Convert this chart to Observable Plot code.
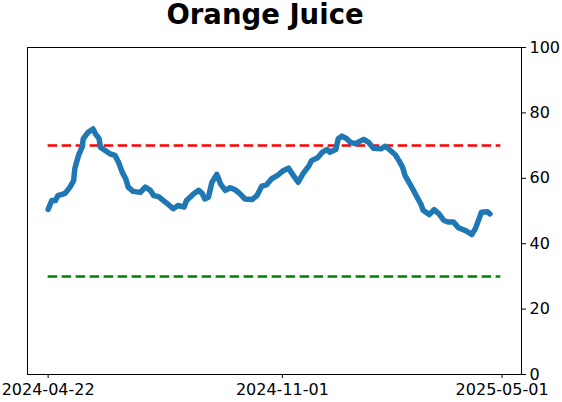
<!DOCTYPE html>
<html>
<head>
<meta charset="utf-8">
<script src="https://cdn.jsdelivr.net/npm/d3@7"></script>
<script src="https://cdn.jsdelivr.net/npm/@observablehq/plot@0.6"></script>
<style>
  html, body { margin: 0; padding: 0; background: #fff; }
  #wrap { position: relative; width: 562px; height: 402px; overflow: hidden; font-family: "DejaVu Sans", sans-serif; }
  #title { position: absolute; left: 0; top: 1px; width: 530px; height: 26px; text-align: center; font-size: 27.5px; font-weight: bold; line-height: 26px; color: #000; }
  #chart { position: absolute; left: 0; top: 40px; }
</style>
</head>
<body>
<div id="wrap">
  <div id="title">Orange Juice</div>
  <div id="chart"></div>
</div>
<script>
const dates = [
  "2024-04-22","2024-04-25","2024-04-28","2024-04-30","2024-05-06","2024-05-10","2024-05-13","2024-05-14",
  "2024-05-17","2024-05-20","2024-05-21","2024-05-25","2024-05-29","2024-05-31","2024-06-03","2024-06-04",
  "2024-06-08","2024-06-12","2024-06-16","2024-06-19","2024-06-22","2024-06-25","2024-06-27","2024-07-01",
  "2024-07-07","2024-07-11","2024-07-15","2024-07-18","2024-07-22","2024-07-26","2024-07-30","2024-08-03",
  "2024-08-07","2024-08-12","2024-08-14","2024-08-20","2024-08-24","2024-08-27","2024-08-29","2024-09-01",
  "2024-09-04","2024-09-08","2024-09-11","2024-09-15","2024-09-19","2024-09-23","2024-09-27","2024-10-01",
  "2024-10-07","2024-10-11","2024-10-15","2024-10-19","2024-10-23","2024-10-28","2024-11-02","2024-11-06",
  "2024-11-10","2024-11-14","2024-11-18","2024-11-23","2024-11-25","2024-11-30","2024-12-04","2024-12-08",
  "2024-12-10","2024-12-15","2024-12-17","2024-12-20","2024-12-24","2024-12-27","2024-12-31","2025-01-07",
  "2025-01-11","2025-01-15","2025-01-21","2025-01-25","2025-01-29","2025-02-02","2025-02-05","2025-02-08",
  "2025-02-10","2025-02-14","2025-02-17","2025-02-20","2025-02-23","2025-02-25","2025-03-02","2025-03-06",
  "2025-03-10","2025-03-14","2025-03-18","2025-03-22","2025-03-26","2025-04-01","2025-04-06","2025-04-09",
  "2025-04-12","2025-04-14","2025-04-19","2025-04-21"
];
const values = [
  50.5,53.2,53.2,54.7,55.4,57.3,59.3,63.0,
  67.0,69.5,72.1,74.1,75.1,73.6,72.1,69.5,
  68.5,67.5,67.0,64.9,61.9,59.8,57.3,56.0,
  55.7,57.3,56.4,54.7,54.4,53.2,52.0,50.7,
  51.7,51.2,53.2,55.3,56.3,55.3,53.7,54.2,
  58.8,61.2,58.3,56.3,57.1,56.5,55.3,53.7,
  53.5,54.7,57.6,58.0,59.8,60.9,62.4,63.1,
  60.9,58.8,61.4,63.9,65.4,66.3,68.0,68.8,
  68.0,68.8,72.1,72.9,72.1,71.0,70.6,71.9,
  71.0,69.2,69.0,69.8,68.5,67.2,65.4,63.4,
  60.9,58.3,56.3,54.2,52.2,50.2,48.9,50.4,
  49.1,47.1,46.6,46.6,44.9,44.0,42.8,44.6,
  47.6,49.6,49.8,49.1
];
const xTicks = ["2024-04-22", "2024-11-01", "2025-05-01"];
const yTicks = [0, 20, 40, 60, 80, 100];
const upperLevel = 70;
const lowerLevel = 30;
const ruleSpan = ["2024-04-22", "2025-04-30"];
const xDomain = ["2024-04-05", "2025-05-17"];

const rows = dates.map((d, i) => ({date: new Date(d), value: values[i]}));
const upperRule = [{v: upperLevel, x1: new Date(ruleSpan[0]), x2: new Date(ruleSpan[1])}];
const lowerRule = [{v: lowerLevel, x1: new Date(ruleSpan[0]), x2: new Date(ruleSpan[1])}];

const chart = Plot.plot({
  width: 562,
  height: 362,
  marginTop: 7,
  marginBottom: 28,
  marginLeft: 27,
  marginRight: 41,
  style: {fontFamily: "DejaVu Sans", fontSize: "16px", color: "#000", background: "#fff", overflow: "visible"},
  x: {
    type: "utc",
    domain: xDomain.map(d => new Date(d)),
    ticks: xTicks.map(d => new Date(d)),
    tickFormat: d3.utcFormat("%Y-%m-%d"),
    label: null,
    tickSize: 4,
    tickPadding: 5
  },
  y: {
    domain: [0, 100],
    ticks: yTicks,
    axis: "right",
    label: null,
    tickSize: 4,
    tickPadding: 4
  },
  marks: [
    Plot.ruleY(upperRule, {y: "v", x1: "x1", x2: "x2", stroke: "#ff0000", strokeWidth: 2.5, strokeDasharray: "9.5,4.5"}),
    Plot.ruleY(lowerRule, {y: "v", x1: "x1", x2: "x2", stroke: "#008000", strokeWidth: 2.5, strokeDasharray: "9.5,4.5"}),
    Plot.lineY(rows, {x: "date", y: "value", stroke: "#1f77b4", strokeWidth: 5.5, strokeLinejoin: "round", strokeLinecap: "round", curve: "linear"}),
    Plot.frame({stroke: "#000", strokeWidth: 1})
  ]
});
document.getElementById("chart").appendChild(chart);
</script>
</body>
</html>
